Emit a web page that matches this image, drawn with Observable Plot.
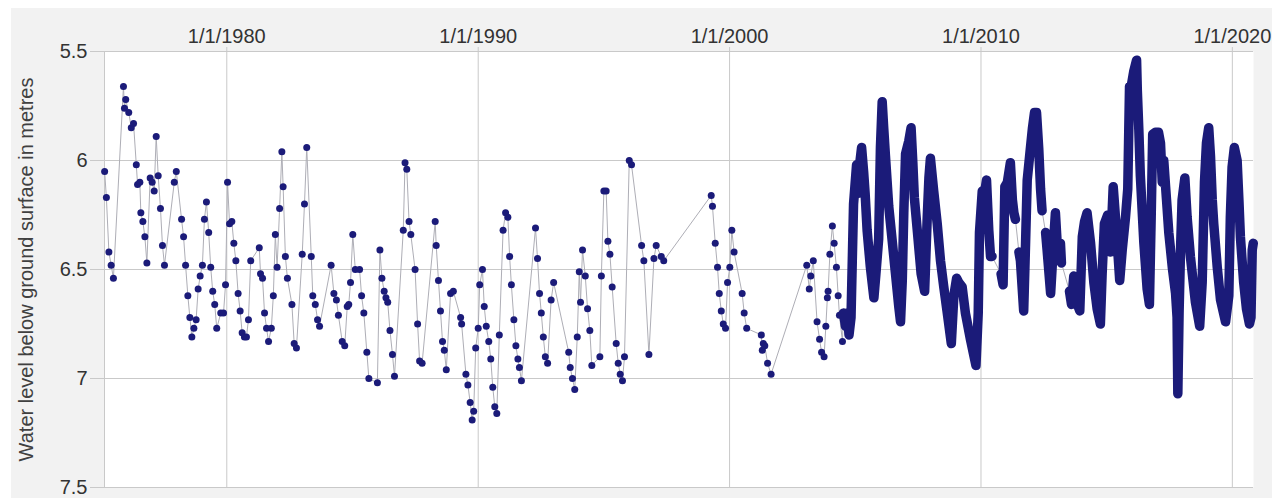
<!DOCTYPE html>
<html>
<head>
<meta charset="utf-8">
<script src="https://cdn.jsdelivr.net/npm/d3@7"></script>
<script src="https://cdn.jsdelivr.net/npm/@observablehq/plot@0.6"></script>
<style>
  html, body { margin: 0; padding: 0; background: #ffffff; }
  #chart { position: absolute; left: 11px; top: 8px; width: 1261px; height: 490px; background: #f2f2f2; }
  #chart svg { display: block; }
</style>
</head>
<body>
<div id="chart"></div>
<script>
// Manual dip readings (decimal year, metres below ground surface)
const manualYear = [
  1975.14,1975.21,1975.31,1975.40,1975.49,1975.89,1975.93,1975.98,1976.10,1976.20,
  1976.29,1976.40,1976.45,1976.54,1976.58,1976.66,1976.74,1976.82,1976.95,1977.03,
  1977.11,1977.19,1977.27,1977.36,1977.44,1977.52,1977.91,1977.99,1978.20,1978.28,
  1978.36,1978.45,1978.53,1978.61,1978.69,1978.78,1978.86,1978.94,1979.03,1979.11,
  1979.19,1979.28,1979.36,1979.44,1979.52,1979.60,1979.76,1979.87,1979.95,1980.03,
  1980.11,1980.20,1980.28,1980.36,1980.45,1980.53,1980.61,1980.70,1980.78,1980.86,
  1980.95,
  1981.29,1981.34,1981.42,1981.50,1981.58,1981.66,1981.77,1981.85,1981.93,1982.00,
  1982.10,1982.19,1982.24,1982.33,1982.41,1982.59,1982.68,1982.77,1983.00,1983.09,
  1983.18,1983.36,1983.42,1983.52,1983.61,1983.69,1984.15,1984.26,1984.36,1984.44,
  1984.59,1984.69,1984.79,1984.85,1984.92,1985.01,1985.11,1985.28,1985.36,1985.45,
  1985.57,1985.65,1985.99,1986.09,1986.17,1986.26,1986.33,1986.40,1986.49,1986.59,
  1986.67,1987.02,1987.09,1987.16,1987.25,1987.32,1987.49,1987.59,1987.67,1987.77,
  1988.29,1988.33,1988.42,1988.50,1988.58,1988.65,1988.73,1988.90,1989.01,1989.30,
  1989.34,1989.51,1989.59,1989.68,1989.76,1989.82,1989.90,1990.00,1990.06,1990.17,
  1990.24,1990.32,1990.42,1990.50,1990.58,1990.66,1990.74,1990.84,1990.99,1991.09,
  1991.18,1991.25,1991.32,1991.42,1991.50,1991.58,1991.64,1991.72,1992.28,1992.36,
  1992.44,1992.51,1992.59,1992.67,1992.76,1992.90,1993.00,1993.60,1993.66,1993.75,
  1993.84,1993.94,1994.02,1994.07,1994.15,1994.26,1994.35,1994.44,1994.52,1994.84,
  1994.90,1995.00,1995.09,1995.16,1995.24,1995.33,1995.49,1995.57,1995.65,1995.74,
  1995.82,1996.01,1996.10,1996.50,1996.59,1996.79,1996.99,1997.08,1997.28,1997.38,
  1999.27,1999.32,1999.43,1999.52,1999.59,1999.67,1999.75,1999.84,1999.92,2000.01,
  2000.09,2000.18,2000.50,2000.58,2000.68,2001.26,2001.30,2001.34,2001.40,2001.51,
  2001.65,2003.07,2003.17,2003.23,2003.33,2003.48,2003.58,2003.66,2003.76,2003.83,
  2003.89,2003.92,2003.99,2004.09,2004.16,2004.25,2004.32,2004.37,2004.49
];
const manualDepth = [
  6.05,6.17,6.42,6.48,6.54,5.66,5.76,5.72,5.78,5.85,
  5.83,6.02,6.11,6.10,6.24,6.28,6.35,6.47,6.08,6.10,
  6.14,5.89,6.07,6.22,6.39,6.48,6.10,6.05,6.27,6.35,
  6.48,6.62,6.72,6.81,6.77,6.73,6.59,6.53,6.48,6.27,
  6.19,6.33,6.49,6.60,6.66,6.77,6.70,6.70,6.57,6.10,
  6.29,6.28,6.38,6.46,6.61,6.69,6.79,6.81,6.81,6.73,
  6.46,
  6.40,6.52,6.54,6.70,6.77,6.83,6.77,6.62,6.34,6.49,
  6.22,5.96,6.12,6.44,6.54,6.66,6.84,6.86,6.43,6.20,
  5.94,6.44,6.62,6.66,6.73,6.76,6.48,6.61,6.64,6.71,
  6.83,6.85,6.67,6.66,6.56,6.34,6.50,6.50,6.62,6.70,
  6.88,7.00,7.02,6.41,6.54,6.60,6.63,6.65,6.78,6.89,
  6.99,6.32,6.01,6.04,6.28,6.34,6.50,6.75,6.92,6.93,
  6.28,6.39,6.55,6.69,6.83,6.87,6.96,6.61,6.60,6.72,
  6.75,6.98,7.03,7.11,7.19,7.15,6.86,6.77,6.57,6.50,
  6.67,6.76,6.83,6.91,7.04,7.13,7.16,6.80,6.32,6.24,
  6.26,6.44,6.57,6.73,6.85,6.91,6.95,7.01,6.31,6.45,
  6.61,6.70,6.81,6.90,6.93,6.64,6.56,6.88,6.95,7.00,
  7.05,6.81,6.51,6.65,6.41,6.53,6.68,6.78,6.94,6.90,
  6.53,6.14,6.14,6.37,6.43,6.58,6.84,6.93,6.98,7.01,
  6.90,6.00,6.02,6.39,6.46,6.89,6.45,6.39,6.44,6.46,
  6.16,6.21,6.38,6.49,6.61,6.69,6.75,6.77,6.56,6.49,
  6.32,6.42,6.61,6.70,6.77,6.80,6.87,6.84,6.85,6.93,
  6.98,6.48,6.59,6.53,6.46,6.74,6.82,6.88,6.90,6.76,
  6.63,6.60,6.43,6.30,6.38,6.49,6.62,6.71,6.83
];

// Data-logger record from mid-2004 (decimal year, metres below ground surface)
const loggerYear = [
  2004.53,2004.61,2004.69,2004.75,2004.83,2004.93,2005.05,2005.11,2005.17,2005.25,
  2005.33,2005.39,2005.47,2005.60,2005.74,2005.82,2005.93,2006.00,2006.07,2006.13,
  2006.20,2006.33,2006.47,2006.60,2006.73,2006.80,2006.87,2006.93,2007.00,2007.13,
  2007.22,2007.29,2007.35,2007.49,2007.62,2007.76,2007.86,2007.93,2007.99,2008.12,
  2008.26,2008.39,2008.52,2008.66,2008.82,2008.92,2009.03,2009.12,2009.25,2009.38,
  2009.58,2009.80,2009.89,2009.94,2010.05,2010.14,2010.22,2010.31,2010.38,2010.44,
  2010.80,2010.88,2010.95,2011.05,2011.17,2011.25,2011.31,2011.37,
  2011.51,2011.57,2011.70,2011.77,2011.84,2011.97,2012.05,2012.13,2012.21,2012.30,2012.37,2012.43,
  2012.57,2012.63,2012.77,2012.90,2012.96,2013.06,2013.16,2013.20,
  2013.52,2013.60,2013.69,2013.80,2013.93,2014.03,2014.12,2014.22,2014.36,2014.49,
  2014.62,2014.75,2014.82,2014.91,2015.04,2015.15,2015.26,2015.35,2015.44,2015.52,
  2015.62,2015.75,2015.84,2015.91,2015.99,2016.08,2016.19,2016.22,2016.28,2016.34,
  2016.48,2016.61,2016.70,2016.77,2016.83,2016.94,2017.06,2017.14,2017.21,2017.27,
  2017.38,2017.47,2017.61,2017.74,2017.80,2017.83,2017.88,2017.94,2018.00,2018.11,
  2018.20,2018.33,2018.53,2018.70,2018.80,2018.89,2018.97,2019.06,2019.13,2019.20,
  2019.26,2019.40,2019.53,2019.73,2019.86,2019.92,2019.99,2020.08,2020.19,2020.26,
  2020.32,2020.45,2020.56,2020.68,2020.74,2020.79,2020.83
];
const loggerDepth = [
  6.70,6.76,6.70,6.80,6.72,6.20,6.02,6.15,6.02,5.94,
  6.05,6.15,6.32,6.49,6.63,6.52,6.36,5.94,5.73,5.85,
  5.98,6.21,6.37,6.52,6.67,6.74,6.55,6.24,5.97,5.91,
  5.85,6.01,6.17,6.35,6.52,6.60,6.27,6.08,5.99,6.14,
  6.29,6.46,6.58,6.70,6.84,6.62,6.54,6.56,6.58,6.70,
  6.82,6.94,6.70,6.33,6.14,6.15,6.09,6.32,6.44,6.44,
  6.52,6.57,6.12,6.10,6.01,6.18,6.24,6.27,
  6.42,6.46,6.69,6.40,6.09,5.94,5.85,5.78,5.78,5.95,6.13,6.23,
  6.33,6.41,6.61,6.35,6.24,6.44,6.38,6.47,
  6.60,6.66,6.53,6.65,6.69,6.35,6.28,6.24,6.38,6.56,
  6.68,6.75,6.52,6.29,6.25,6.42,6.12,6.26,6.41,6.55,
  6.41,6.26,6.13,5.66,5.65,5.59,5.54,5.68,5.86,6.07,
  6.38,6.59,6.66,6.26,5.88,5.87,5.87,5.92,6.10,6.00,
  6.18,6.33,6.49,6.61,6.72,7.07,6.70,6.40,6.18,6.08,
  6.26,6.44,6.65,6.76,6.56,6.10,5.92,5.85,5.98,6.18,
  6.29,6.49,6.64,6.74,6.62,6.26,6.03,5.94,6.00,6.18,
  6.35,6.56,6.68,6.75,6.72,6.41,6.38
];
// Logger outages: the record resumes after each of these readings
const loggerGapAfter = [2010.44, 2011.37, 2012.43, 2013.20];

const tickYears = [1980, 1990, 2000, 2010, 2020];
const depthTicks = [5.5, 6, 6.5, 7, 7.5];
const yTitle = "Water level below ground surface in metres";

const navy = "#1b1b79";
const gridColor = "#c9c9c9";

function toDate(y) {
  const y0 = Math.floor(y);
  const a = Date.UTC(y0, 0, 1), b = Date.UTC(y0 + 1, 0, 1);
  return new Date(a + (y - y0) * (b - a));
}

const manual = manualYear.map((y, i) => ({date: toDate(y), depth: manualDepth[i]}));
const logger = loggerYear.map((y, i) => ({
  date: toDate(y),
  depth: loggerDepth[i],
  run: loggerGapAfter.filter(g => g < y).length
}));
const allReadings = manual.concat(logger);
const tickDates = tickYears.map(y => new Date(Date.UTC(y, 0, 1)));
const xStart = toDate(1975.135);
const xEnd = toDate(2020.84);

const chart = Plot.plot({
  width: 1261,
  height: 490,
  marginLeft: 93,
  marginRight: 19,
  marginTop: 43,
  marginBottom: 11,
  style: {background: "transparent", fontFamily: "'Liberation Sans', Arial, sans-serif", color: "#333"},
  x: {type: "utc", domain: [xStart, xEnd]},
  y: {domain: [5.5, 7.5], reverse: true},
  marks: [
    Plot.frame({fill: "#ffffff", stroke: "none"}),
    Plot.gridX(tickDates, {stroke: gridColor, strokeOpacity: 1}),
    Plot.gridY(depthTicks, {stroke: gridColor, strokeOpacity: 1}),
    Plot.ruleX([xStart], {stroke: gridColor}),
    Plot.axisX(tickDates, {
      anchor: "top", tickSize: 5, tickPadding: 4, fontSize: 20,
      stroke: gridColor, fill: "#333",
      tickFormat: d => `1/1/${d.getUTCFullYear()}`, label: null
    }),
    Plot.axisY(depthTicks, {
      anchor: "left", tickSize: 14, tickPadding: 3, fontSize: 20,
      stroke: gridColor, fill: "#333",
      tickFormat: d => String(d), label: null
    }),
    Plot.text([yTitle], {
      text: d => d, frameAnchor: "left", textAnchor: "middle", lineAnchor: "middle",
      rotate: -90, dx: -78, fontSize: 20, fill: "#404040"
    }),
    Plot.line(allReadings, {x: "date", y: "depth", stroke: "#aeaeb6", strokeWidth: 1}),
    Plot.dot(manual, {x: "date", y: "depth", r: 3.5, fill: navy, stroke: "none"}),
    Plot.line(logger, {
      x: "date", y: "depth", z: "run",
      stroke: navy, strokeWidth: 9.5, strokeLinecap: "round", strokeLinejoin: "round"
    })
  ]
});

document.getElementById("chart").appendChild(chart);
</script>
</body>
</html>
